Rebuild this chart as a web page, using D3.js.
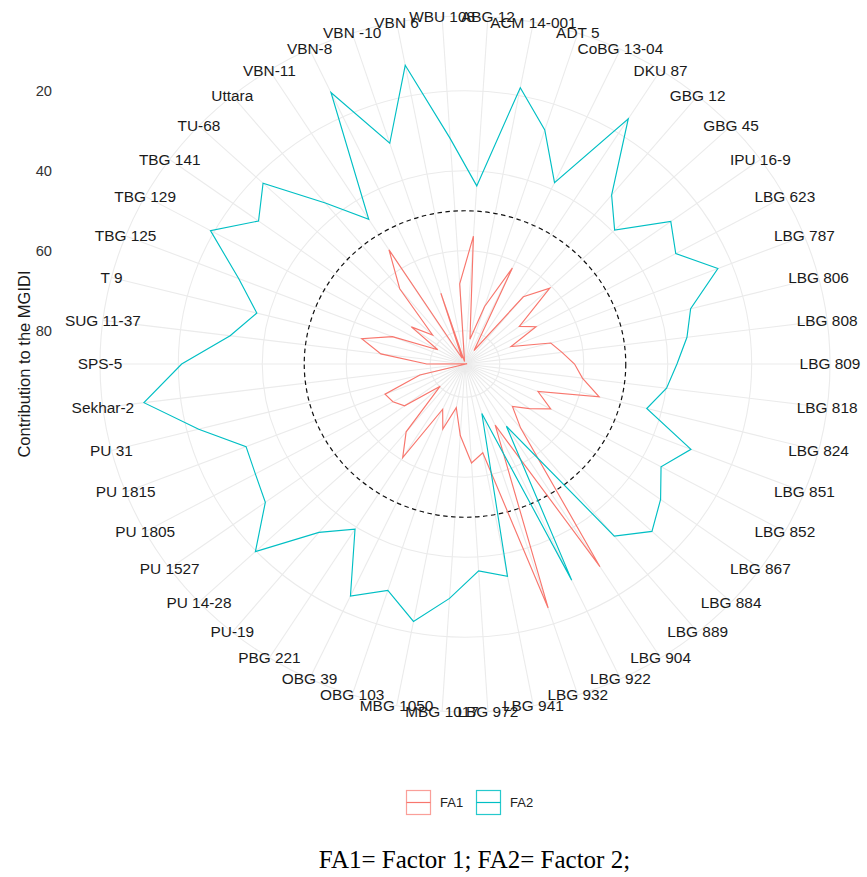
<!DOCTYPE html>
<html>
<head>
<meta charset="utf-8">
<script src="https://cdn.jsdelivr.net/npm/d3@7/dist/d3.min.js"></script>
<style>
  html, body { margin: 0; padding: 0; background: #ffffff; }
  svg { display: block; }
</style>
</head>
<body>
<svg id="chart" width="867" height="877"></svg>
<script>
// Genotypes, in clockwise order starting just right of 12 o'clock
const genotypes = [
  "ABG 12", "ACM 14-001", "ADT 5", "CoBG 13-04", "DKU 87", "GBG 12", "GBG 45",
  "IPU 16-9", "LBG 623", "LBG 787", "LBG 806", "LBG 808", "LBG 809", "LBG 818",
  "LBG 824", "LBG 851", "LBG 852", "LBG 867", "LBG 884", "LBG 889", "LBG 904",
  "LBG 922", "LBG 932", "LBG 941", "LBG 972", "MBG 1017", "MBG 1050", "OBG 103",
  "OBG 39", "PBG 221", "PU-19", "PU 14-28", "PU 1527", "PU 1805", "PU 1815",
  "PU 31", "Sekhar-2", "SPS-5", "SUG 11-37", "T 9", "TBG 125", "TBG 129",
  "TBG 141", "TU-68", "Uttara", "VBN-11", "VBN-8", "VBN -10", "VBN 6", "WBU 108"
];

// Contribution of factor 1 to the MGIDI (%)
const fa1 = [
  56.3, 82.0, 73.2, 61.8, 84.3, 66.5, 60.6, 72.3, 69.0, 76.5,
  67.2, 65.0, 62.2, 60.1, 55.3, 69.6, 65.0, 69.3, 72.8, 67.5,
  28.3, 71.4, 24.2, 65.7, 63.5, 70.4, 77.2, 71.2, 75.8, 60.6,
  66.3, 80.2, 70.5, 68.7, 67.8, 77.2, 88.8, 79.2, 68.1, 62.9,
  69.7, 80.9, 72.5, 77.7, 63.9, 54.5, 86.7, 69.7, 87.7, 68.2
];

// Contribution of factor 2 to the MGIDI (%)
const fa2 = [
  43.7, 18.0, 26.8, 38.2, 15.7, 33.5, 39.4, 27.7, 31.0, 23.5,
  32.8, 35.0, 37.8, 39.9, 43.6, 30.4, 35.0, 30.7, 27.2, 32.5,
  69.9, 28.6, 75.3, 34.3, 36.5, 29.6, 22.8, 28.8, 24.2, 39.4,
  33.7, 19.8, 29.5, 31.3, 32.2, 22.8, 11.2, 20.8, 31.9, 37.1,
  30.3, 19.1, 27.5, 22.3, 36.1, 45.5, 13.3, 30.3, 12.3, 31.8
];

const radialTicks = [20, 40, 60, 80];
const seriesNames = ["FA1", "FA2"];
const seriesValues = [fa1, fa2];
const seriesColors = ["#F8766D", "#00BFC4"];
const cutLine = 50;

// ---- geometry ----
const cx = 465, cy = 364;
const Rdata = 309.3;             // radius of the data range
const Rout = Rdata * 0.45 / 0.4; // outer ring + label ring
const sx = 1.049;                // horizontal aspect of the plotting area

const svg = d3.select("#chart");

const theta = d3.scaleBand().domain(genotypes).range([0, 2 * Math.PI]).paddingInner(0).paddingOuter(0);
const angleOf = g => theta(g) + theta.bandwidth() / 2;
// reversed radial scale: large contributions sit near the centre
const r = d3.scaleLinear().domain([88.3, 11.0]).range([0, Rdata]);

const px = (a, rad) => cx + sx * rad * Math.sin(a);
const py = (a, rad) => cy - rad * Math.cos(a);

const grid = svg.append("g").attr("class", "grid");
const gridColor = "#EBEBEB";

// radial spokes
grid.selectAll("line.spoke").data(genotypes).join("line")
  .attr("class", "spoke")
  .attr("x1", cx).attr("y1", cy)
  .attr("x2", g => px(angleOf(g), Rout))
  .attr("y2", g => py(angleOf(g), Rout))
  .attr("stroke", gridColor).attr("stroke-width", 1.1);

// concentric rings at the radial breaks plus the outer ring
grid.selectAll("ellipse.ring").data(radialTicks.map(t => r(t)).concat([Rout])).join("ellipse")
  .attr("class", "ring")
  .attr("cx", cx).attr("cy", cy)
  .attr("rx", d => sx * d).attr("ry", d => d)
  .attr("fill", "none")
  .attr("stroke", gridColor).attr("stroke-width", 1.1);

// dashed reference ring
svg.append("ellipse")
  .attr("cx", cx).attr("cy", cy)
  .attr("rx", sx * r(cutLine)).attr("ry", r(cutLine))
  .attr("fill", "none")
  .attr("stroke", "#111").attr("stroke-width", 1.2)
  .attr("stroke-dasharray", "4.5,3.5");

// series polygons
const line = d3.line()
  .x(d => px(angleOf(d.g), r(d.v)))
  .y(d => py(angleOf(d.g), r(d.v)))
  .curve(d3.curveLinearClosed);

seriesNames.forEach((name, k) => {
  const pts = genotypes.map((g, i) => ({ g, v: seriesValues[k][i] }));
  svg.append("path")
    .attr("d", line(pts))
    .attr("fill", "none")
    .attr("stroke", seriesColors[k])
    .attr("stroke-width", 1.15)
    .attr("stroke-linejoin", "miter");
});

// genotype labels around the ring
const font = "'Liberation Sans', Arial, sans-serif";
svg.append("g").selectAll("g.lab").data(genotypes).join("g")
  .attr("class", "lab")
  .attr("transform", g => `translate(${px(angleOf(g), Rout)},${py(angleOf(g), Rout)}) scale(${sx},1)`)
  .append("text")
  .attr("text-anchor", "middle")
  .attr("dy", "0.36em")
  .attr("font-family", font)
  .attr("font-size", 14.7)
  .attr("fill", "#1a1a1a")
  .text(g => g);

// radial axis labels on the left
svg.append("g").selectAll("text").data(radialTicks).join("text")
  .attr("x", 52)
  .attr("y", t => cy - r(t))
  .attr("dy", "0.36em")
  .attr("text-anchor", "end")
  .attr("font-family", font)
  .attr("font-size", 14.7)
  .attr("fill", "#333")
  .text(t => t);

svg.append("text")
  .attr("transform", `translate(24,${cy}) rotate(-90)`)
  .attr("text-anchor", "middle")
  .attr("dy", "0.36em")
  .attr("font-family", font)
  .attr("font-size", 16.5)
  .attr("fill", "#1a1a1a")
  .text("Contribution to the MGIDI");

// legend
const legend = svg.append("g").attr("transform", "translate(406,790)");
const keyX = [0, 70];
seriesNames.forEach((name, k) => {
  const g = legend.append("g").attr("transform", `translate(${keyX[k]},0)`);
  g.append("rect").attr("x", 0.5).attr("y", 0.5).attr("width", 24).attr("height", 24)
    .attr("fill", "none").attr("stroke", seriesColors[k]).attr("stroke-width", 1.2)
    .attr("opacity", k === 0 ? 0.7 : 0.85);
  g.append("line").attr("x1", 0.5).attr("x2", 24.5).attr("y1", 12.5).attr("y2", 12.5)
    .attr("stroke", seriesColors[k]).attr("stroke-width", 1.2);
  g.append("text").attr("x", 34).attr("y", 12.5).attr("dy", "0.36em")
    .attr("font-family", font).attr("font-size", 13).attr("fill", "#222")
    .text(name);
});

// caption
svg.append("text")
  .attr("x", 474.5).attr("y", 868)
  .attr("text-anchor", "middle")
  .attr("font-family", "'Liberation Serif', 'Times New Roman', serif")
  .attr("font-size", 25)
  .attr("fill", "#000")
  .text("FA1= Factor 1; FA2= Factor 2;");
</script>
</body>
</html>
